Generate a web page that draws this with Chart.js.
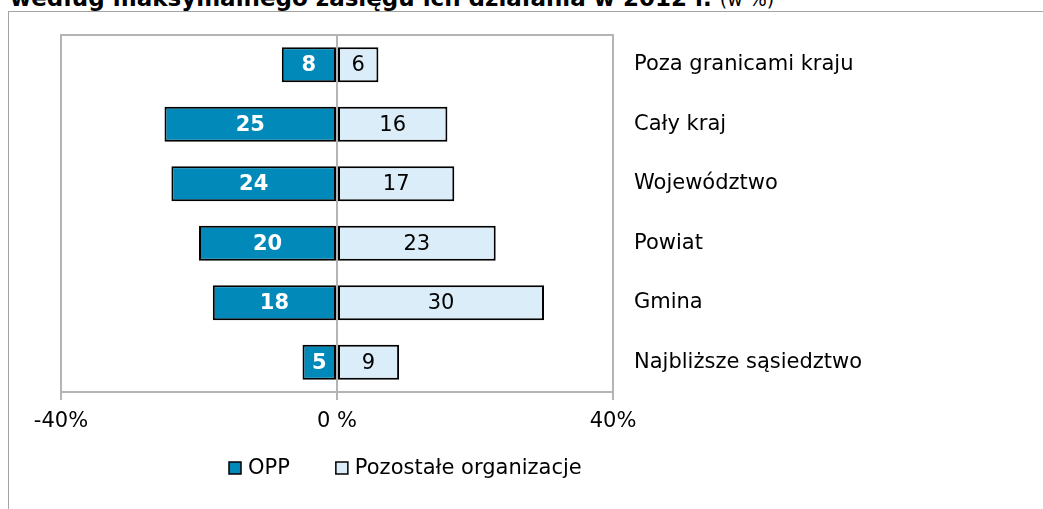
<!DOCTYPE html>
<html lang="pl">
<head>
<meta charset="utf-8">
<script src="https://cdn.jsdelivr.net/npm/chart.js@4/dist/chart.umd.min.js"></script>
<style>
  html, body { margin: 0; padding: 0; background: #fff; overflow: hidden; }
  #wrap { position: relative; width: 1043px; height: 509px; }
  #frame { position: absolute; left: 8px; top: 11px; right: -2px; bottom: -2px;
           border-left: 1px solid #a3a3a3; border-top: 1px solid #a3a3a3; }
  #title { position: absolute; left: 10px; top: -15px; white-space: nowrap;
           font: bold 23px "DejaVu Sans", sans-serif; line-height: 26px; color: #000; }
  #title span { font-weight: normal; font-size: 19px; }
  canvas { position: absolute; left: 0; top: 0; }
</style>
</head>
<body>
<div id="wrap">
  <div id="frame"></div>
  <div id="title">według maksymalnego zasięgu ich działania w 2012 r. <span>(w %)</span></div>
  <canvas id="c" width="1043" height="509"></canvas>
</div>
<script>
// Range of activity, top to bottom
const categories = ['Poza granicami kraju', 'Cały kraj', 'Województwo', 'Powiat', 'Gmina', 'Najbliższe sąsiedztwo'];
const seriesNames = ['OPP', 'Pozostałe organizacje'];
const oppValues = [8, 25, 24, 20, 18, 5];
const otherValues = [6, 16, 17, 23, 30, 9];
const axisTicks = [-40, 0, 40];

const FONT = '"DejaVu Sans", sans-serif';
const OPP_COLOR = '#0089b9';
const OTHER_COLOR = '#daedf8';
const LINE_GRAY = '#b4b4b4';

// value labels centred inside each bar
const barLabels = {
  id: 'barLabels',
  afterDatasetsDraw(chart) {
    const ctx = chart.ctx;
    ctx.save();
    ctx.textAlign = 'center';
    ctx.textBaseline = 'middle';
    chart.data.datasets.forEach((ds, di) => {
      const meta = chart.getDatasetMeta(di);
      meta.data.forEach((bar, i) => {
        const v = Math.abs(ds.data[i]);
        const cx = (bar.x + bar.base) / 2;
        ctx.font = (di === 0 ? 'bold ' : '') + '21px ' + FONT;
        ctx.fillStyle = di === 0 ? '#ffffff' : '#000000';
        ctx.fillText(String(v), cx, bar.y + 1);
      });
    });
    ctx.restore();
  }
};

// top edge of the plot frame
const topEdge = {
  id: 'topEdge',
  beforeDatasetsDraw(chart) {
    const { ctx, chartArea: a } = chart;
    ctx.save();
    ctx.strokeStyle = LINE_GRAY;
    ctx.lineWidth = 2;
    ctx.beginPath();
    ctx.moveTo(a.left - 1, a.top);
    ctx.lineTo(a.right + 1, a.top);
    ctx.stroke();
    ctx.restore();
  }
};

// legend row under the axis
const legendRow = {
  id: 'legendRow',
  afterDraw(chart) {
    const ctx = chart.ctx;
    ctx.save();
    ctx.font = '21px ' + FONT;
    ctx.textBaseline = 'middle';
    ctx.textAlign = 'left';
    const y = 468;
    let x = 229;
    chart.data.datasets.forEach((ds) => {
      ctx.fillStyle = ds.backgroundColor;
      ctx.fillRect(x, y - 6, 12, 12);
      ctx.strokeStyle = '#000';
      ctx.lineWidth = 1.5;
      ctx.strokeRect(x, y - 6, 12, 12);
      ctx.fillStyle = '#000';
      ctx.fillText(ds.label, x + 19, y + 1);
      x += 19 + ctx.measureText(ds.label).width + 46;
    });
    ctx.restore();
  }
};

new Chart(document.getElementById('c'), {
  type: 'bar',
  data: {
    labels: categories,
    datasets: [
      {
        label: seriesNames[0],
        data: oppValues.map(v => -v),
        backgroundColor: OPP_COLOR,
        borderColor: '#000',
        borderWidth: 2,
        borderSkipped: false
      },
      {
        label: seriesNames[1],
        data: otherValues,
        backgroundColor: OTHER_COLOR,
        borderColor: '#000',
        borderWidth: 2,
        borderSkipped: false
      }
    ]
  },
  options: {
    indexAxis: 'y',
    responsive: false,
    animation: false,
    devicePixelRatio: 1,
    categoryPercentage: 1,
    barPercentage: 0.59,
    layout: { padding: { left: 61, top: 35, right: 0, bottom: 0 } },
    plugins: {
      legend: { display: false },
      tooltip: { enabled: false },
      title: { display: false }
    },
    scales: {
      x: {
        stacked: true,
        min: -40,
        max: 40,
        z: 1,
        afterBuildTicks(scale) {
          scale.ticks = axisTicks.map(v => ({ value: v }));
        },
        afterFit(scale) { scale.height = 117; },
        ticks: {
          color: '#000',
          font: { family: FONT, size: 21 },
          padding: 9,
          maxRotation: 0,
          callback: v => (v === 0 ? '0 %' : v + '%')
        },
        grid: {
          color: LINE_GRAY,
          lineWidth: 2,
          tickLength: 8,
          drawTicks: true
        },
        border: { display: true, color: LINE_GRAY, width: 2 }
      },
      y: {
        stacked: true,
        position: 'right',
        afterFit(scale) { scale.width = 1043 - 613; },
        ticks: {
          color: '#000',
          font: { family: FONT, size: 21 },
          padding: 21
        },
        grid: { display: false, drawTicks: false },
        border: { display: false }
      }
    }
  },
  plugins: [topEdge, barLabels, legendRow]
});
</script>
</body>
</html>
